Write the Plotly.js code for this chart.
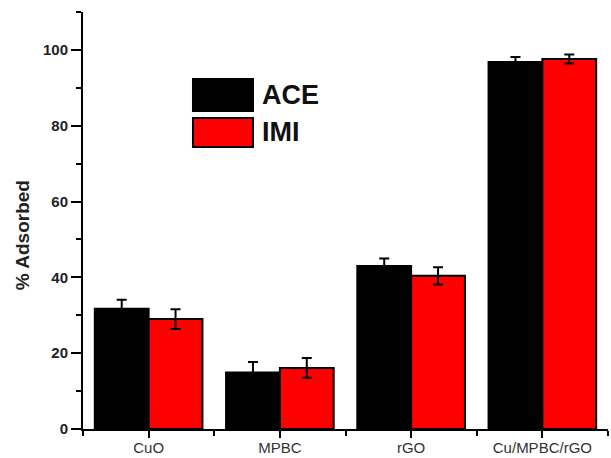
<!DOCTYPE html>
<html>
<head>
<meta charset="utf-8">
<script src="https://cdn.plot.ly/plotly-3.0.1.min.js"></script>
<style>html,body{margin:0;padding:0;background:#fff;}#chart{width:611px;height:458px;}</style>
</head>
<body>
<div id="chart"></div>
<script>
const categories = ["CuO", "MPBC", "rGO", "Cu/MPBC/rGO"];
const seriesNames = ["ACE", "IMI"];
const aceValues = [31.7, 14.9, 43.0, 96.8];
const aceErrors = [2.4, 2.8, 2.0, 1.3];
const imiValues = [29.0, 16.1, 40.4, 97.6];
const imiErrors = [2.6, 2.6, 2.3, 1.2];
const yTickVals = [0, 20, 40, 60, 80, 100];
const yTitle = "% Adsorbed";

const xIdx = categories.map((c, i) => i);

const errStyle = {type: 'data', visible: true, color: '#000', thickness: 2, width: 5};

const traces = [
  {type: 'bar', name: seriesNames[0], x: xIdx, y: aceValues,
   marker: {color: '#000000', line: {color: '#000', width: 2}},
   error_y: Object.assign({array: aceErrors}, errStyle), showlegend: false},
  {type: 'bar', name: seriesNames[1], x: xIdx, y: imiValues,
   marker: {color: '#ff0000', line: {color: '#000', width: 2}},
   error_y: Object.assign({array: imiErrors}, errStyle), showlegend: false}
];

const tickFontY = {family: 'Arial, Liberation Sans, sans-serif', size: 15, color: '#222', weight: 'bold'};
const tickFontX = {family: 'Arial, Liberation Sans, sans-serif', size: 15, color: '#333'};

const layout = {
  width: 611, height: 458,
  margin: {l: 83, r: 3, t: 12, b: 29},
  paper_bgcolor: '#fff', plot_bgcolor: '#fff',
  barmode: 'group', bargap: 0.18, bargroupgap: 0,
  showlegend: false,
  xaxis: {
    range: [-0.5, 3.5], showgrid: false, zeroline: false,
    showline: true, linecolor: '#000', linewidth: 2,
    tickmode: 'array', tickvals: xIdx, ticktext: categories,
    ticks: 'outside', ticklen: 7, tickwidth: 2, tickcolor: '#000',
    ticklabelstandoff: -3,
    tickfont: tickFontX,
    minor: {tickvals: [-0.5, 0.5, 1.5, 2.5, 3.5], ticks: 'outside', ticklen: 5, tickwidth: 2, tickcolor: '#000'}
  },
  yaxis: {
    range: [0, 110], showgrid: false, zeroline: false,
    showline: true, linecolor: '#000', linewidth: 2,
    tickmode: 'array', tickvals: yTickVals,
    ticks: 'outside', ticklen: 10, tickwidth: 2, tickcolor: '#000',
    tickfont: tickFontY,
    minor: {dtick: 10, tick0: 0, ticks: 'outside', ticklen: 5, tickwidth: 2, tickcolor: '#000'}
  },
  xaxis2: {
    overlaying: 'x', side: 'top', range: [-1, 3.97], showgrid: false, zeroline: false,
    showline: true, linecolor: '#000', linewidth: 2,
    dtick: 1, tick0: 0, ticks: 'inside', ticklen: 8, tickwidth: 2, tickcolor: '#000',
    showticklabels: false,
    minor: {dtick: 0.5, tick0: 0, ticks: 'inside', ticklen: 5, tickwidth: 2, tickcolor: '#000'}
  },
  yaxis2: {
    overlaying: 'y', side: 'right', range: [0, 10], showgrid: false, zeroline: false,
    showline: true, linecolor: '#000', linewidth: 2,
    dtick: 1, tick0: 0, ticks: 'inside', ticklen: 7, tickwidth: 2, tickcolor: '#000',
    showticklabels: false
  },
  shapes: [
    {type: 'rect', xref: 'paper', yref: 'paper', x0: 0.2095, x1: 0.3238, y0: 0.7626, y1: 0.8393,
     fillcolor: '#000', line: {color: '#000', width: 2}},
    {type: 'rect', xref: 'paper', yref: 'paper', x0: 0.2095, x1: 0.3238, y0: 0.6763, y1: 0.7458,
     fillcolor: '#ff0000', line: {color: '#000', width: 2}}
  ],
  annotations: [
    {xref: 'paper', yref: 'paper', x: 0.337, y: 0.801, xanchor: 'left', yanchor: 'middle', showarrow: false,
     text: seriesNames[0], font: {family: 'Arial, Liberation Sans, sans-serif', size: 27, color: '#111', weight: 'bold'}},
    {xref: 'paper', yref: 'paper', x: 0.337, y: 0.712, xanchor: 'left', yanchor: 'middle', showarrow: false,
     text: seriesNames[1], font: {family: 'Arial, Liberation Sans, sans-serif', size: 27, color: '#111', weight: 'bold'}},
    {xref: 'paper', yref: 'paper', x: -0.116, y: 0.465, xanchor: 'center', yanchor: 'middle', showarrow: false,
     textangle: -90, text: yTitle,
     font: {family: 'Arial, Liberation Sans, sans-serif', size: 19, color: '#222', weight: 'bold'}}
  ]
};

Plotly.newPlot('chart', traces, layout, {displayModeBar: false, staticPlot: true});
</script>
</body>
</html>
